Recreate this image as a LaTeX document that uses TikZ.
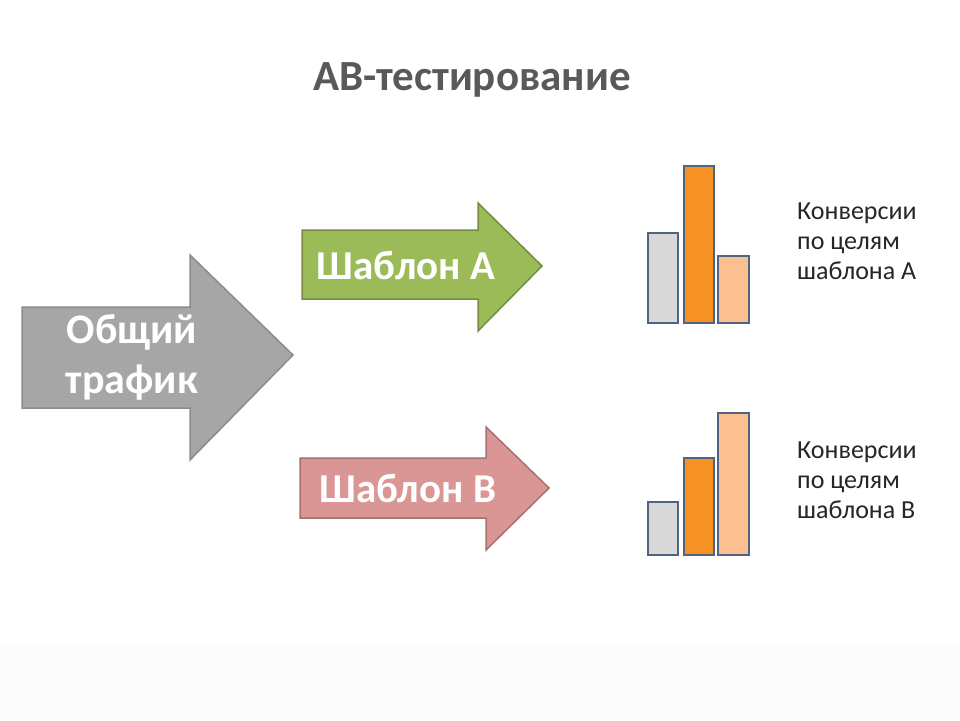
\documentclass[tikz,border=0pt]{standalone}
\usepackage{fontspec}
\setmainfont{Carlito}
\definecolor{grayA}{HTML}{A6A6A6}
\definecolor{greenA}{HTML}{9BBB59}
\definecolor{pinkB}{HTML}{D99694}
\definecolor{barEdge}{HTML}{4F6382}
\definecolor{barGray}{HTML}{D9D9D9}
\definecolor{barOrange}{HTML}{F79123}
\definecolor{barPeach}{HTML}{FAC090}
\begin{document}
\begin{tikzpicture}[x=1pt,y=-1pt,
  arrowshape/.style={line width=1.5pt,line join=miter},
  bar/.style={draw=barEdge,line width=1.8pt},
  lbl/.style={font=\fontsize{41}{46}\selectfont\bfseries,text=white,align=center},
  note/.style={font=\fontsize{26}{30}\selectfont,text=black!85,align=left,anchor=north west,inner sep=0pt}]
\useasboundingbox[fill=white] (0,0) rectangle (960,720);
\fill[black!1.5] (0,645) rectangle (960,720);
\node[font=\fontsize{43}{48}\selectfont\bfseries,text=black!65] (title) at (472,80) {AB-тестирование};
% big gray arrow
\draw[arrowshape,fill=grayA,draw=black!45] (22,307) -- (190,307) -- (190,255) -- (293,355) -- (190,460) -- (190,408) -- (22,408) -- cycle;
\node[lbl,font=\fontsize{42}{50}\selectfont\bfseries] (total) at (132,357) {Общий\\трафик};
% green arrow
\draw[arrowshape,fill=greenA,draw=greenA!75!black] (302,230) -- (478,230) -- (478,203) -- (542,266) -- (478,331) -- (478,299) -- (302,299) -- cycle;
\node[lbl] (a) at (406,266) {Шаблон A};
% pink arrow
\draw[arrowshape,fill=pinkB,draw=pinkB!75!black] (300,458) -- (486,458) -- (486,427) -- (549,488) -- (486,550) -- (486,518) -- (300,518) -- cycle;
\node[lbl] (b) at (408,489) {Шаблон B};
% bars A
\draw[bar,fill=barGray] (648,233) rectangle (678,323);
\draw[bar,fill=barOrange] (684,166) rectangle (714,323);
\draw[bar,fill=barPeach] (718,256) rectangle (749,323);
% bars B
\draw[bar,fill=barGray] (648,502) rectangle (678,555);
\draw[bar,fill=barOrange] (684,458) rectangle (714,555);
\draw[bar,fill=barPeach] (718,413) rectangle (749,555);
\node[note] (na) at (797,203) {Конверсии\\по целям\\шаблона A};
\node[note] (nb) at (797,442) {Конверсии\\по целям\\шаблона B};
\end{tikzpicture}
\end{document}
